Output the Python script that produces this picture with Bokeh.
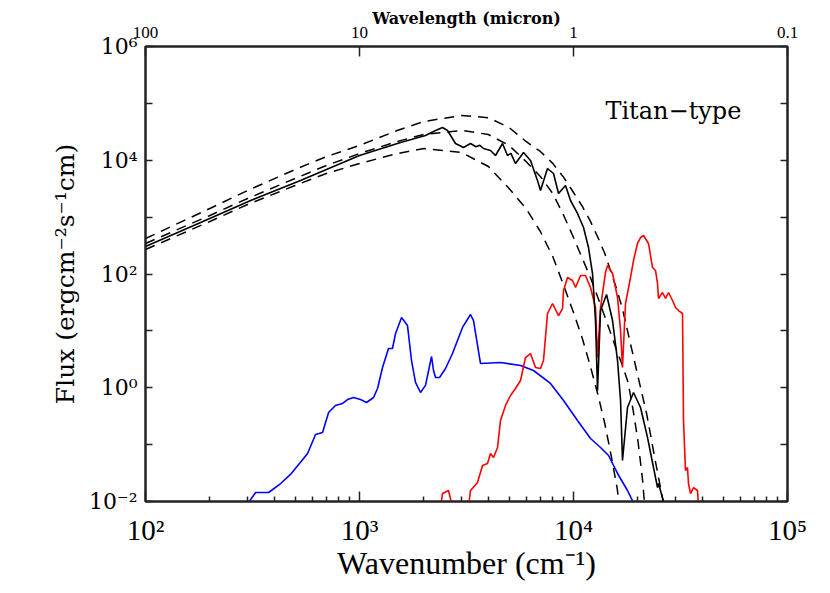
import numpy as np
from bokeh.plotting import figure
from bokeh.models import Range1d, LogAxis, FixedTicker, CustomJSTickFormatter, Label
from bokeh.embed import file_html
from bokeh.resources import INLINE

# ---- data (wavenumber cm^-1, flux) ----
d1_wn = [100, 200, 300, 500, 700, 1000, 1500, 2000, 3000, 4000, 5000, 6000, 7000, 8000, 9000,
         10000, 11000, 12000, 13000, 14000, 15000, 16000, 17000, 18000, 19000, 20000, 22000,
         24000, 26000, 26600]
d1_f = [420, 1420, 2940, 6880, 11600, 18200, 33400, 48000, 61200, 56000, 37700, 21400, 14300,
        8800, 5000, 2710, 1540, 840, 440, 230, 106, 51, 23, 9.0, 3.7, 1.6, 0.34, 0.057, 0.012, 0.007]

d2_wn = [100, 200, 300, 500, 700, 1000, 1500, 2000, 3000, 4000, 5000, 6000, 7000, 8000, 9000,
         10000, 11000, 12000, 13000, 14000, 15000, 16000, 17000, 18000, 19000, 20000, 21000, 21600]
d2_f = [344, 1070, 2130, 4780, 8090, 13100, 21400, 28400, 33400, 28400, 18200, 9500, 5180, 2600,
        1070, 438, 187, 87, 38.6, 17.9, 8.6, 4.3, 2.36, 1.24, 0.40, 0.118, 0.025, 0.007]

d3_wn = [100, 200, 300, 500, 700, 1000, 1500, 2000, 3000, 4000, 5000, 6000, 7000, 8000, 9000,
         10000, 11000, 12000, 13000, 14000, 15000, 16000, 16500]
d3_f = [270, 838, 1670, 3600, 5850, 8770, 13100, 16100, 13700, 7770, 3190, 1420, 559, 203, 62.8,
        21.0, 7.35, 2.36, 0.76, 0.235, 0.064, 0.017, 0.007]

titan_wn = [100, 181, 310, 530, 1000, 1556, 2034, 2266, 2443, 2578, 2809, 3062, 3302, 3500,
            3650, 3797, 4094, 4321, 4659, 4915, 5100, 5358, 5840, 6295, 6787, 7012, 7560, 8065,
            8511, 9177, 9683, 10440, 11140, 11750, 12270, 12670, 12950, 13375, 14270, 15220,
            16060, 16590, 16940, 17880, 19070, 20570, 22170, 23650, 24700, 24960, 26340, 26800]
titan_f = [305, 805, 1960, 4410, 12100, 20500, 27200, 33400, 37700, 33400, 19700, 16750, 19700,
           17300, 18300, 16100, 14840, 12120, 19700, 12120, 13200, 8770, 13690, 9900, 4410,
           2940, 7160, 5850, 2600, 3600, 1960, 1160, 657, 292, 102, 15.2, 0.895, 22.8, 43.6,
           15.2, 3.01, 0.597, 0.0526, 0.45, 0.825, 0.45, 0.134, 0.0396, 0.0176, 0.0207, 0.01,
           0.007]

red_wn = [2390, 2443, 2606, 2720, float("nan"),
          3231, 3302, 3560, 3757, 3964, 4094, 4229, 4416, 4560, 4813, 5077, 5358, 5655, 5967,
          6295, 6645, 7012, 7241, 7560, 7979, 8511, 8887, 8983, 9376, 9894, 10220, 10790, 11380,
          12010, 12670, 12950, 13375, 14110, 14420, 15220, 16060, 16590, 16940, 17500, 18470,
          19070, 19910, 20570, 21250, 22410, 23400, 24170, 24700, 24960, 26050, 26910, 27800,
          29020, 29970, 30950, 32320, 32660, 33370, 34090, 34460, 35230, 36380, 37980, 38400]
red_f = [0.008, 0.0138, 0.0156, 0.008, float("nan"),
         0.008, 0.0156, 0.0216, 0.043, 0.0466, 0.0698, 0.0594, 0.089, 0.266, 0.488, 0.731, 0.97,
         1.34, 3.40, 4.0, 2.27, 2.18, 3.01, 20.2, 30.3, 18.6, 24.7, 51.3, 86.8, 76.9, 57.9, 94.1,
         94.1, 57.9, 25.8, 3.40, 25.8, 106, 141, 102, 38.6, 10.2, 2.27, 30.3, 86.8, 173, 344,
         438, 475, 344, 130, 115, 68.1, 37.1, 47.3, 37.1, 47.3, 34.2, 25.8, 22.8, 20.2, 0.266,
         0.0351, 0.0396, 0.0207, 0.0138, 0.0176, 0.0156, 0.008]

blue_wn = [293, 327, 376, 428, 476, 572, 623, 672, 717, 772, 833, 879, 938, 1011, 1078, 1163,
           1214, 1281, 1366, 1426, 1474, 1572, 1676, 1750, 1827, 1928, 2034, 2171, 2218, 2266,
           2365, 2523, 2720, 3029, 3302, 3410, 3676, 4560, 5655, 6503, 7806, 8983, 10440, 12010,
           13375, 14580, 16060, 17880, 19490]
blue_f = [0.008, 0.0144, 0.0144, 0.0207, 0.0299, 0.0698, 0.151, 0.163, 0.367, 0.488, 0.529,
          0.621, 0.674, 0.621, 0.551, 0.674, 0.97, 2.27, 4.90, 4.90, 9.0, 17.2, 12.4, 3.01, 1.24,
          0.825, 1.10, 3.54, 2.01, 1.51, 1.51, 2.18, 4.0, 11.5, 19.4, 15.2, 2.67, 2.78, 2.46,
          2.01, 1.19, 0.597, 0.266, 0.128, 0.089, 0.0644, 0.0311, 0.0156, 0.008]

x_major = [1e2, 1e3, 1e4, 1e5]
x_minor = [m * 10.0 ** e for e in (2, 3, 4) for m in range(2, 10)]
x_labels = ["10\u00b2", "10\u00b3", "10\u2074", "10\u2075"]
top_labels = ["100", "10", "1", "0.1"]
y_major = [1e-2, 1e-1, 1e0, 1e1, 1e2, 1e3, 1e4, 1e5, 1e6]
y_labels = ["10\u207b\u00b2", "", "10\u2070", "", "10\u00b2", "", "10\u2074", "", "10\u2076"]

FMT = """
let best = 0, bd = Infinity;
for (let i = 0; i < tv.length; i++) {
  const d = Math.abs(Math.log10(tick) - Math.log10(tv[i]));
  if (d < bd) { bd = d; best = i; }
}
return bd < 0.01 ? tl[best] : "";
"""

def fmt(tv, tl):
    return CustomJSTickFormatter(args=dict(tv=tv, tl=tl), code=FMT)

p = figure(width=822, height=585, x_axis_type="log", y_axis_type="log",
           x_range=Range1d(1e2, 1e5), y_range=Range1d(1e-2, 1e6),
           output_backend="svg", toolbar_location=None,
           min_border_left=145, min_border_right=35, min_border_top=46, min_border_bottom=84)
p.grid.visible = False
p.outline_line_color = "#222222"
p.outline_line_width = 2
p.background_fill_color = "white"
p.border_fill_color = "white"

SERIF = "Liberation Serif"
WIDE = "DejaVu Serif"

def style(ax, ticker, major_in, minor_in):
    ax.ticker = ticker
    ax.axis_line_color = "#222222"
    ax.axis_line_width = 2
    ax.major_tick_in = major_in
    ax.major_tick_out = 0
    ax.minor_tick_in = minor_in
    ax.minor_tick_out = 0
    ax.major_tick_line_color = "#222222"
    ax.minor_tick_line_color = "#222222"
    ax.major_tick_line_width = 1.5
    ax.minor_tick_line_width = 1.5
    ax.major_label_text_color = "black"
    ax.axis_label_text_color = "black"
    ax.axis_label_text_font_style = "normal"

# bottom axis
xb = p.xaxis[0]
style(xb, FixedTicker(ticks=x_major, minor_ticks=x_minor), 10, 5)
xb.formatter = fmt(x_major, x_labels)
xb.major_label_text_font = SERIF
xb.major_label_text_font_size = "29px"
xb.major_label_standoff = 12
xb.axis_label = "Wavenumber (cm\u207b\u00b9)"
xb.axis_label_text_font = SERIF
xb.axis_label_text_font_size = "32px"
xb.axis_label_standoff = -4

# left axis
yl = p.yaxis[0]
style(yl, FixedTicker(ticks=y_major, minor_ticks=[]), 7, 0)
yl.formatter = fmt(y_major, y_labels)
yl.major_label_text_font = WIDE
yl.major_label_text_font_size = "22px"
yl.major_label_standoff = 8
yl.axis_label = "Flux (ergcm\u207b\u00b2s\u207b\u00b9cm)"
yl.axis_label_text_font = WIDE
yl.axis_label_text_font_size = "25px"
yl.axis_label_standoff = 6

# top axis (wavelength)
xt = LogAxis()
style(xt, FixedTicker(ticks=x_major, minor_ticks=[]), 10, 0)
xt.formatter = fmt(x_major, top_labels)
xt.major_label_text_font = SERIF
xt.major_label_text_font_size = "17px"
xt.major_label_standoff = 9
xt.axis_label = "Wavelength (micron)"
xt.axis_label_text_font = WIDE
xt.axis_label_text_font_style = "bold"
xt.axis_label_text_font_size = "16px"
xt.axis_label_standoff = -4
p.add_layout(xt, "above")

# right axis
yr = LogAxis()
style(yr, FixedTicker(ticks=y_major, minor_ticks=[]), 7, 0)
yr.formatter = fmt(y_major, [""] * len(y_major))
yr.major_label_text_font_size = "1px"
p.add_layout(yr, "right")

dash = "10 7"
p.line(d1_wn, d1_f, line_color="black", line_width=1.5, line_dash=dash)
p.line(d2_wn, d2_f, line_color="black", line_width=1.5, line_dash=dash)
p.line(d3_wn, d3_f, line_color="black", line_width=1.5, line_dash=dash)
p.line(blue_wn, blue_f, line_color="#0000ff", line_width=1.6)
p.line(red_wn, red_f, line_color="#ff0000", line_width=1.6)
p.line(titan_wn, titan_f, line_color="black", line_width=1.6)

p.add_layout(Label(x=1.41e4, y=7.4e4, text="Titan\u2212type", text_font=WIDE,
                   text_font_size="24px", text_color="black", text_baseline="alphabetic"))

open("out.html", "w").write(file_html(p, INLINE))
